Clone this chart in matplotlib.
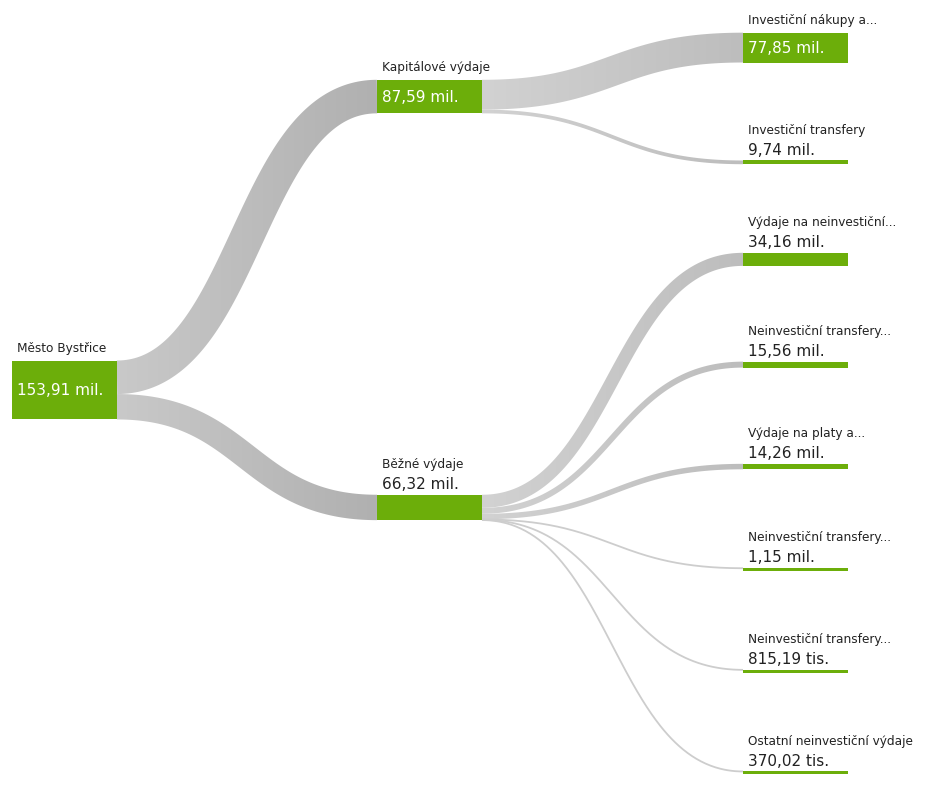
import numpy as np
import matplotlib.pyplot as plt
from matplotlib.patches import Polygon, Rectangle
from matplotlib.colors import LinearSegmentedColormap

# hodnoty v mil. Kč
ROOT_NAME = "Město Bystřice"
ROOT_VALUE = 153.91

MID_NAMES = ["Kapitálové výdaje", "Běžné výdaje"]
MID_VALUES = [87.59, 66.32]

LEAF_NAMES = [
    "Investiční nákupy a...",
    "Investiční transfery",
    "Výdaje na neinvestiční...",
    "Neinvestiční transfery...",
    "Výdaje na platy a...",
    "Neinvestiční transfery...",
    "Neinvestiční transfery...",
    "Ostatní neinvestiční výdaje",
]
LEAF_VALUES = [77.85, 9.74, 34.16, 15.56, 14.26, 1.15, 0.81519, 0.37002]
LEAF_PARENT = [0, 0, 1, 1, 1, 1, 1, 1]

GREEN = '#6cae0a'
PX_PER_MIL = 0.383
MIN_H = 3
BOX_W = 105
COL_X = [12, 377, 743]
LEAF_BOTTOM0 = 63.5
LEAF_STEP = 101.7


def fmt(v):
    if v >= 1:
        return f"{v:.2f}".replace('.', ',') + " mil."
    return f"{v * 1000:.2f}".replace('.', ',') + " tis."


def draw_band(ax, x0, x1, ys, yt, h, c0, c1):
    # stredova krivka (bezier) a posun kolmo o polovinu tloustky
    t = np.linspace(0, 1, 200)
    xm = (x0 + x1) / 2
    cx = (1 - t) ** 3 * x0 + 3 * (1 - t) ** 2 * t * xm + 3 * (1 - t) * t ** 2 * xm + t ** 3 * x1
    cy = ys + (yt - ys) * (3 * t ** 2 - 2 * t ** 3)
    if h < 2.5:
        ax.plot(cx, cy, color='#cdcdcd', lw=1.8 * 0.72, zorder=1, solid_capstyle='butt')
        return
    dx = np.gradient(cx)
    dy = np.gradient(cy)
    n = np.hypot(dx, dy)
    nx, ny = -dy / n, dx / n
    top = np.column_stack([cx + nx * h / 2, cy + ny * h / 2])
    bot = np.column_stack([cx - nx * h / 2, cy - ny * h / 2])
    verts = np.concatenate([top, bot[::-1]])
    poly = Polygon(verts, closed=True, facecolor='none', edgecolor='none')
    ax.add_patch(poly)
    cmap = LinearSegmentedColormap.from_list('band', [c0, c1])
    grad = np.linspace(0, 1, 256).reshape(1, -1)
    im = ax.imshow(grad, cmap=cmap, extent=[x0 - 1, x1 + 1, verts[:, 1].max() + 1, verts[:, 1].min() - 1],
                   aspect='auto', interpolation='bilinear', zorder=1)
    im.set_clip_path(poly)


def draw_node(ax, x, top, h, name, value):
    ax.add_patch(Rectangle((x, top), BOX_W, h, facecolor=GREEN, edgecolor='none', zorder=3))
    if h >= 28:
        ax.text(x + 5, top - 13, name, fontsize=8.7, color='#222222', va='center', ha='left')
        ax.text(x + 5, top + h / 2, fmt(value), fontsize=11, color='white', va='center', ha='left')
    else:
        ax.text(x + 5, top - 31, name, fontsize=8.7, color='#222222', va='center', ha='left')
        ax.text(x + 5, top - 11, fmt(value), fontsize=11, color='#222222', va='center', ha='left')


fig = plt.figure(figsize=(9.25, 8.04), dpi=100)
ax = fig.add_axes([0, 0, 1, 1])
ax.axis('off')

leaf_h = [max(v * PX_PER_MIL, MIN_H) for v in LEAF_VALUES]
leaf_bot = [LEAF_BOTTOM0 + i * LEAF_STEP for i in range(len(LEAF_VALUES))]
leaf_top = [b - h for b, h in zip(leaf_bot, leaf_h)]

mid_h = [max(v * PX_PER_MIL, MIN_H) for v in MID_VALUES]
mid_bot = [np.mean([leaf_bot[i] for i in range(len(LEAF_VALUES)) if LEAF_PARENT[i] == k])
           for k in range(len(MID_VALUES))]
mid_top = [b - h for b, h in zip(mid_bot, mid_h)]

root_h = ROOT_VALUE * PX_PER_MIL
root_bot = np.mean(leaf_bot) + 1
root_top = root_bot - root_h

# root -> mid
off = root_top
for k in range(len(MID_VALUES)):
    h = MID_VALUES[k] * PX_PER_MIL
    draw_band(ax, COL_X[0] + BOX_W, COL_X[1], off + h / 2, mid_top[k] + h / 2, h,
              c0='#c9c9c9', c1='#b0b0b0')
    off += h

# mid -> leaf
offs = list(mid_top)
for i in range(len(LEAF_VALUES)):
    p = LEAF_PARENT[i]
    h = LEAF_VALUES[i] * PX_PER_MIL
    draw_band(ax, COL_X[1] + BOX_W, COL_X[2], offs[p] + h / 2, leaf_top[i] + h / 2, h,
              c0='#d2d2d2', c1='#bdbdbd')
    offs[p] += h

draw_node(ax, COL_X[0], root_top, root_h, ROOT_NAME, ROOT_VALUE)
for k in range(len(MID_VALUES)):
    draw_node(ax, COL_X[1], mid_top[k], mid_h[k], MID_NAMES[k], MID_VALUES[k])
for i in range(len(LEAF_VALUES)):
    draw_node(ax, COL_X[2], leaf_top[i], leaf_h[i], LEAF_NAMES[i], LEAF_VALUES[i])

ax.set_xlim(0, 925)
ax.set_ylim(804, 0)
fig.savefig('out.png', dpi=100, facecolor='white')
